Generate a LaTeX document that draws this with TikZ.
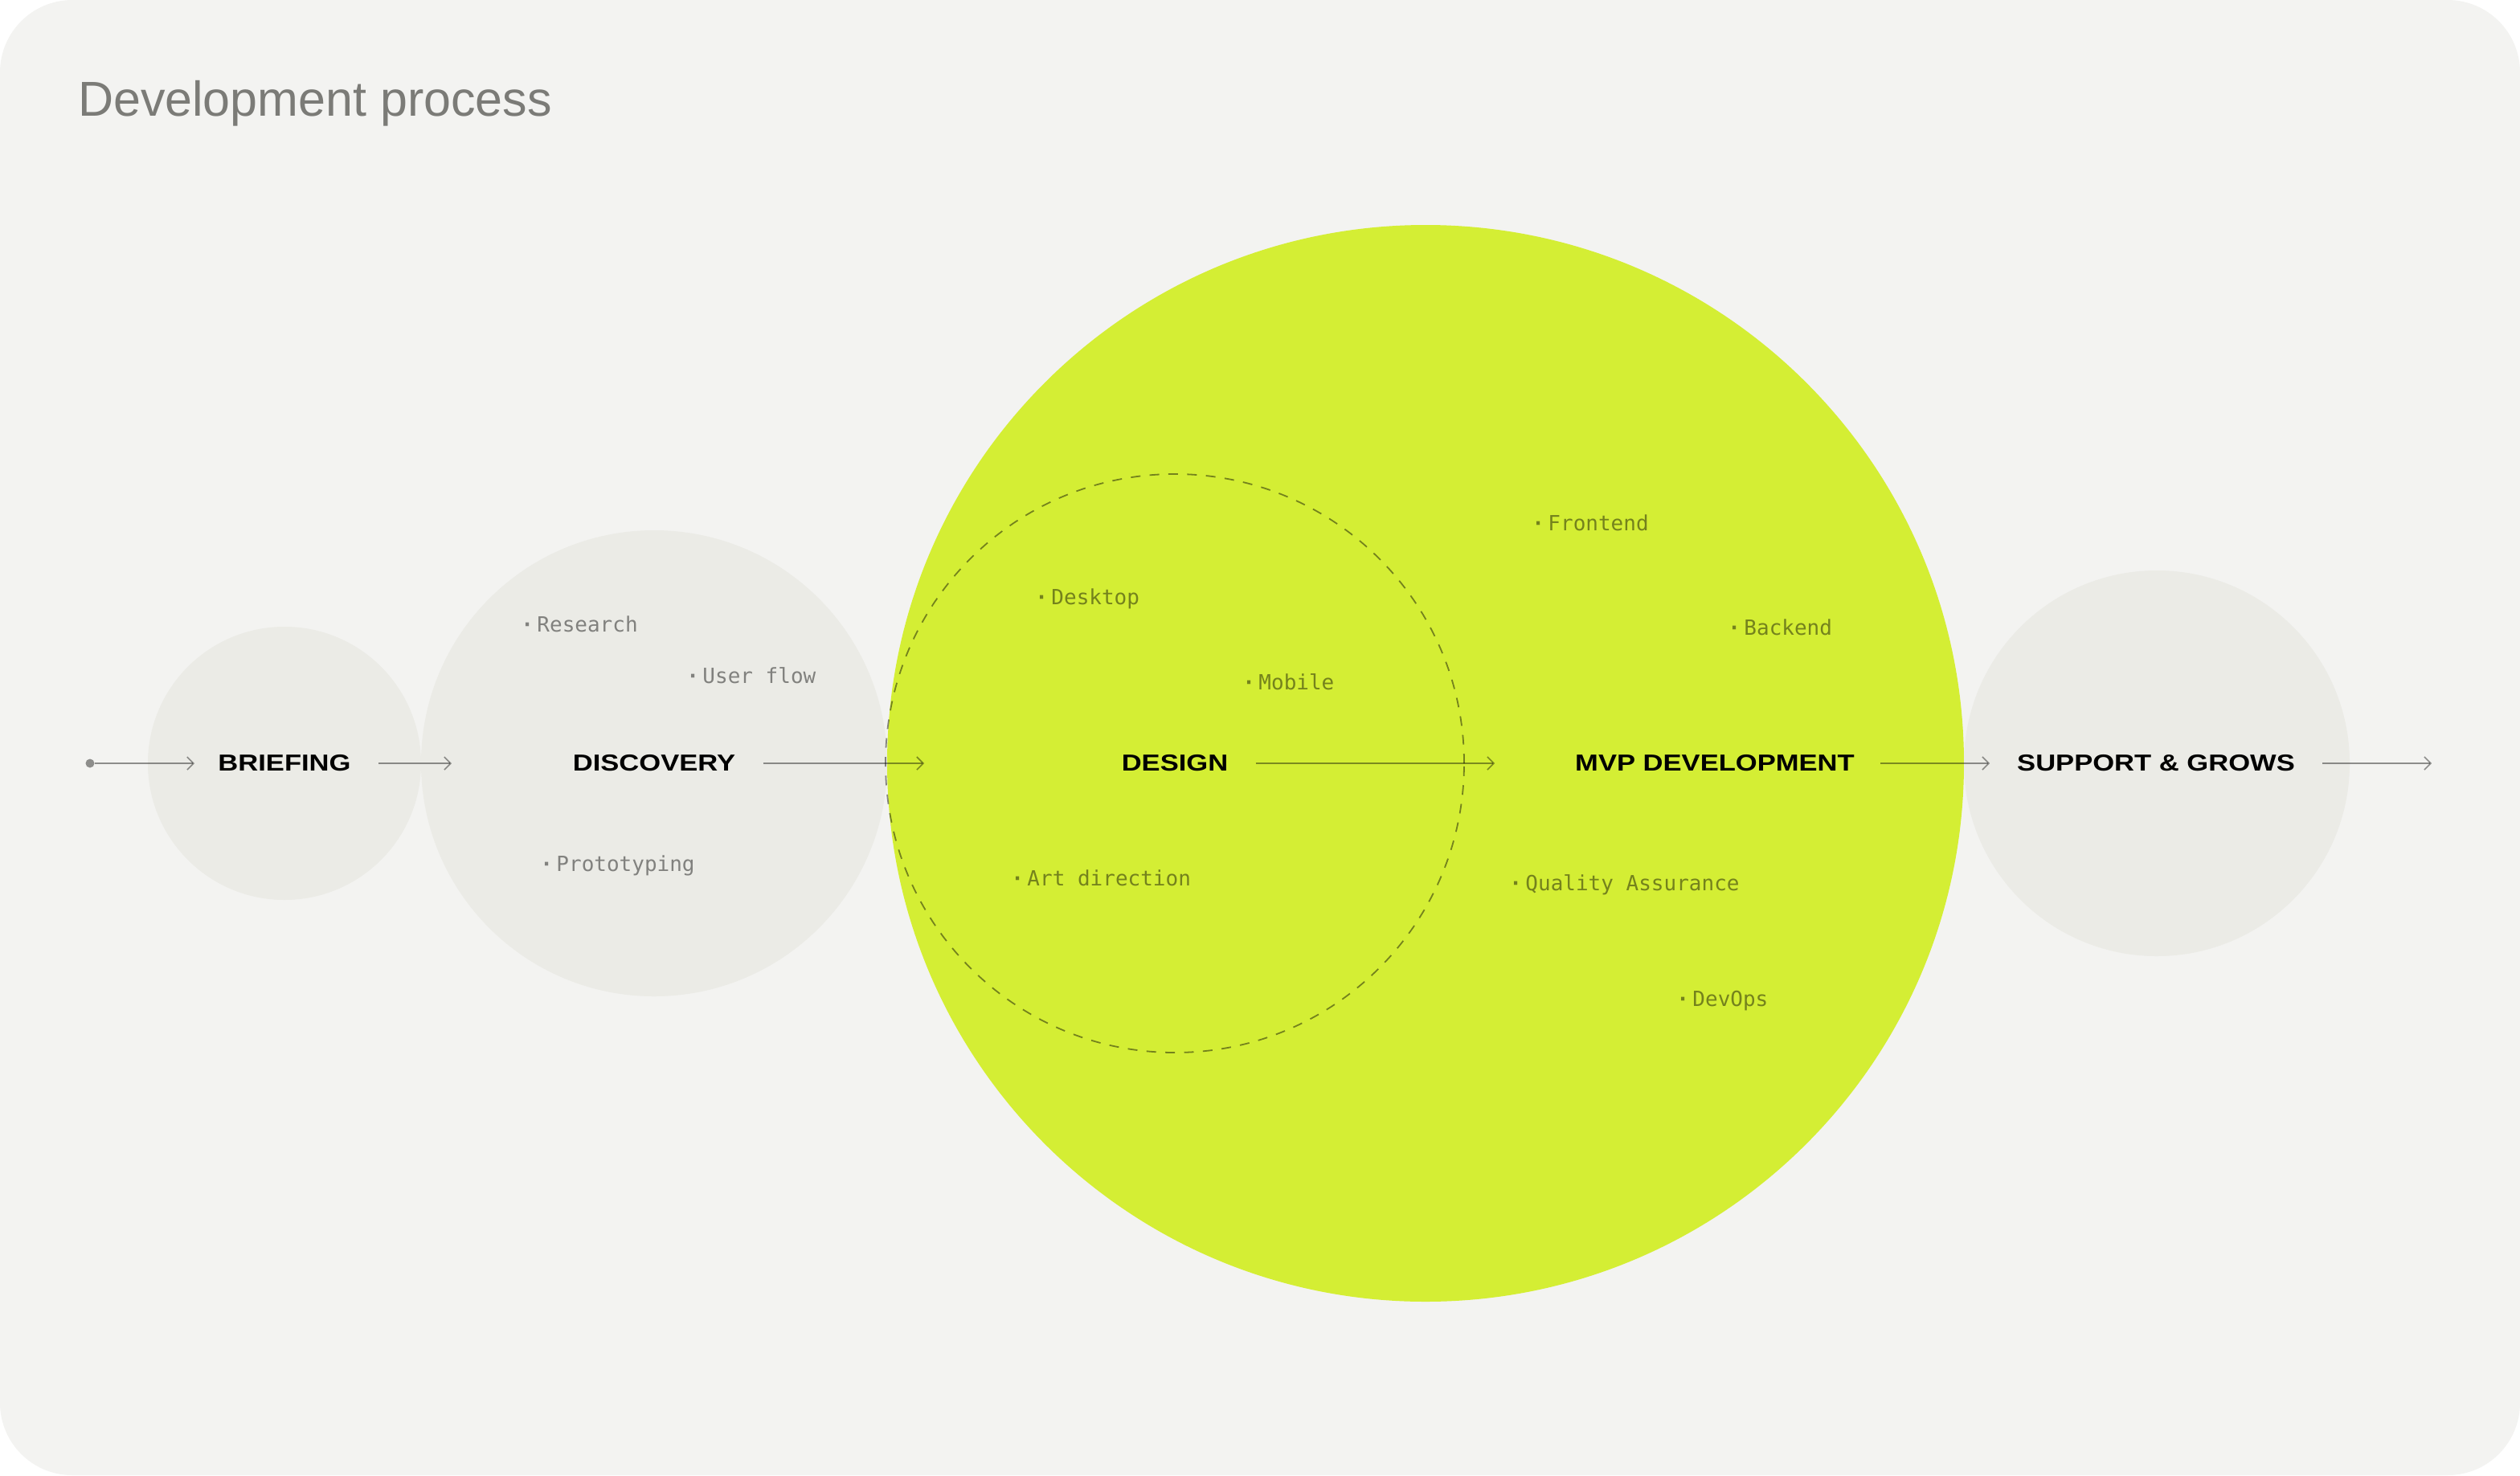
\documentclass[tikz,border=0pt]{standalone}
\usepackage{fontspec}
\setmainfont{Liberation Sans}
\newfontfamily\stagefont[FakeStretch=1.2]{Liberation Sans}
\newfontfamily\itemfont{DejaVu Sans Mono}
\usetikzlibrary{arrows.meta}
\definecolor{paper}{HTML}{F3F3F1}
\definecolor{discgrey}{HTML}{EBEBE6}
\definecolor{lime}{HTML}{D4EE34}
\definecolor{titlegrey}{HTML}{7B7B77}
\newcommand{\bul}{{\bfseries ·}\kern2.2pt}
\begin{document}
\begin{tikzpicture}[x=1pt,y=-1pt,
    disc/.style={circle,fill=discgrey,inner sep=0pt},
    stage/.style={font=\stagefont\bfseries\fontsize{14.4}{16}\selectfont,inner sep=0pt},
    item/.style={anchor=west,inner sep=0pt,font=\itemfont\fontsize{13}{15}\selectfont,
        text=black,text opacity=.45,text height=9.5pt,text depth=2.5pt},
    flow/.style={-{Straight Barb[length=4pt,width=8pt]},line width=.8pt,draw=black,draw opacity=.42}]

            \fill[paper,rounded corners=45pt] (0,0) rectangle (1568,918);
            \useasboundingbox (0,0) rectangle (1568,918);

            \node[anchor=base west,text=titlegrey,font=\fontsize{30.5}{36}\selectfont] (title) at (45,72) {Development process};

            % discs
            \node[disc,fill=lime,minimum size=670pt] (mvpdisc) at (887,475) {};
            \node[disc,minimum size=170pt] (briefdisc) at (177,475) {};
            \node[disc,minimum size=290pt] (discdisc) at (407,475) {};
            \node[disc,minimum size=240pt] (supdisc) at (1342,475) {};
            \node[circle,draw=black,draw opacity=.45,line width=.9pt,dash pattern=on 6pt off 5.7pt,
                inner sep=0pt,minimum size=360pt] (designring) at (731,475) {};

            % stages
            \node[stage] (briefing) at (177,475) {BRIEFING};
            \node[stage] (discovery) at (407,475) {DISCOVERY};
            \node[stage] (design) at (731,475) {DESIGN};
            \node[stage] (mvp) at (1067,475) {MVP DEVELOPMENT};
            \node[stage] (support) at (1341.5,475) {SUPPORT \& GROWS};

            % sub-steps
            \node[item] (research) at (324,389.5) {\bul Research};
            \node[item] (userflow) at (427,421.5) {\bul User flow};
            \node[item] (proto) at (336,538.5) {\bul Prototyping};
            \node[item] (desktop) at (644,372.5) {\bul Desktop};
            \node[item] (mobile) at (773,425.5) {\bul Mobile};
            \node[item] (artdir) at (629,547.5) {\bul Art direction};
            \node[item] (frontend) at (953,326.5) {\bul Frontend};
            \node[item] (backend) at (1075,391.5) {\bul Backend};
            \node[item] (qa) at (939,550.5) {\bul Quality Assurance};
            \node[item] (devops) at (1043,622.5) {\bul DevOps};

            % flow
            \node[circle,fill=black,fill opacity=.42,inner sep=0pt,minimum size=5.5pt] (start) at (56,475) {};
            \coordinate (tip1) at (121,475);
            \coordinate (tip2) at (281,475);
            \coordinate (tip3) at (575,475);
            \coordinate (tip4) at (930,475);
            \coordinate (tip5) at (1238,475);
            \coordinate (tip6) at (1513,475);

            \draw[flow] (start) -- (tip1);
            \draw[flow,shorten <=17pt] (briefing) -- (tip2);
            \draw[flow,shorten <=17pt] (discovery) -- (tip3);
            \draw[flow,shorten <=17pt] (design) -- (tip4);
            \draw[flow,shorten <=16pt] (mvp) -- (tip5);
            \draw[flow,shorten <=17pt] (support) -- (tip6);
        \end{tikzpicture}
\end{document}
